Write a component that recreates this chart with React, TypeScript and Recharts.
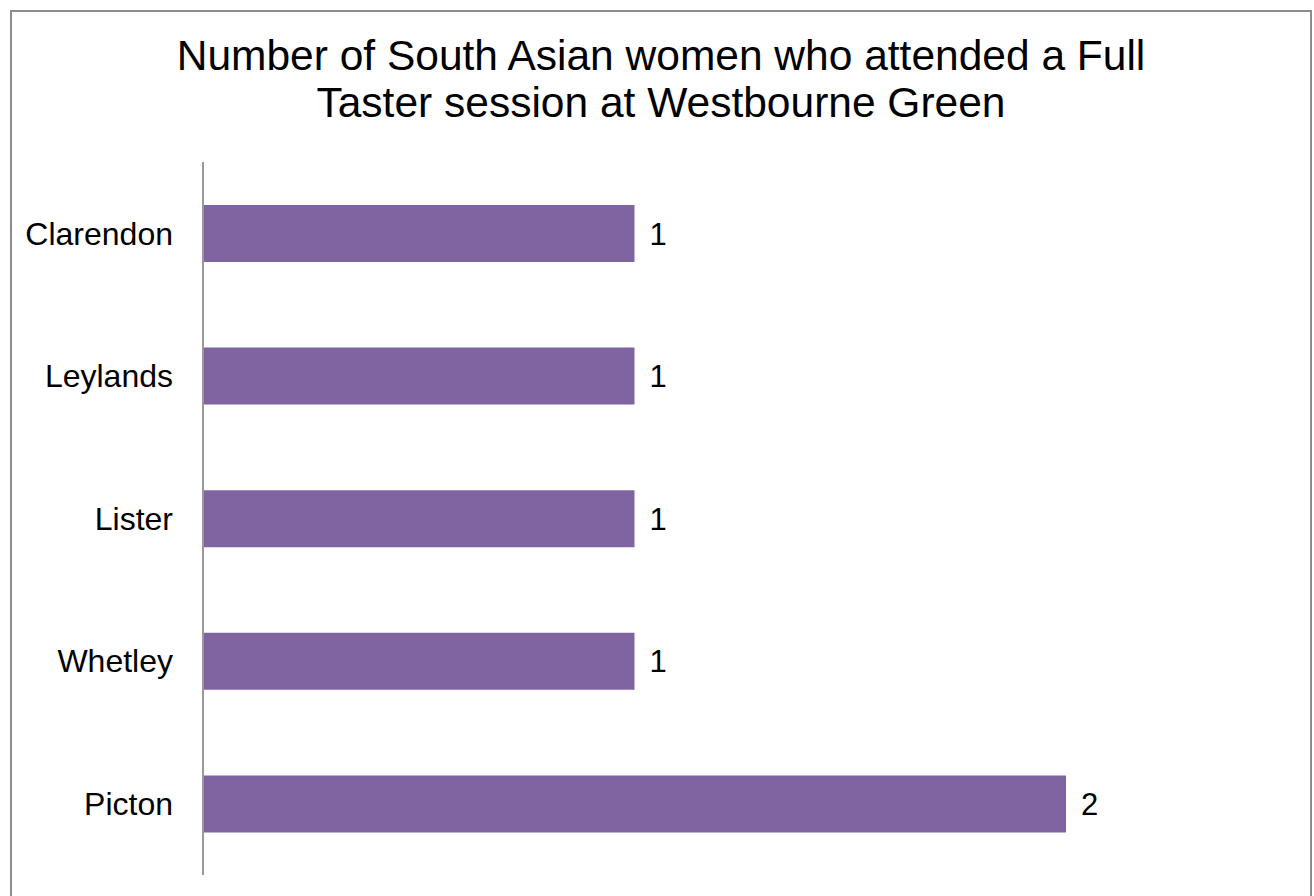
import React from "react";
import { BarChart, Bar, XAxis, YAxis, LabelList } from "recharts";

const categories = ["Clarendon", "Leylands", "Lister", "Whetley", "Picton"];
const values = [1, 1, 1, 1, 2];
const titleLines = [
  "Number of South Asian women who attended a Full",
  "Taster session at Westbourne Green",
];

const data = categories.map((name, i) => ({ name, value: values[i] }));
const FONT = "'Liberation Sans', Arial, sans-serif";

export default function App() {
  return (
    <div
      style={{
        position: "absolute",
        left: 0,
        top: 0,
        width: 1314,
        height: 896,
        overflow: "hidden",
        background: "#fff",
        fontFamily: FONT,
      }}
    >
      <div
        style={{
          position: "absolute",
          left: 10,
          top: 10,
          width: 1302,
          height: 920,
          border: "2px solid #8c8c8c",
          boxSizing: "border-box",
        }}
      />
      {titleLines.map((t, i) => (
        <div
          key={i}
          style={{
            position: "absolute",
            left: 4,
            width: 1314,
            top: 35 + i * 47,
            textAlign: "center",
            fontSize: 42.5,
            lineHeight: "42.5px",
            color: "#000",
            whiteSpace: "nowrap",
          }}
        >
          {t}
        </div>
      ))}
      <div style={{ position: "absolute", left: 0, top: 0 }}>
        <BarChart
          width={1314}
          height={896}
          data={data}
          layout="vertical"
          margin={{ top: 162, bottom: 21, left: 0, right: 248 }}
        >
          <XAxis type="number" domain={[0, 2]} hide />
          <YAxis
            type="category"
            dataKey="name"
            width={203}
            tickLine={false}
            tickSize={0}
            tickMargin={30}
            axisLine={{ stroke: "#999999", strokeWidth: 2 }}
            tick={{ fontSize: 32, fill: "#000", fontFamily: FONT }}
          />
          <Bar dataKey="value" fill="#8064A2" barSize={57} isAnimationActive={false}>
            <LabelList
              dataKey="value"
              position="right"
              offset={15}
              style={{ fontSize: 31, fill: "#000", fontFamily: FONT }}
            />
          </Bar>
        </BarChart>
      </div>
    </div>
  );
}
